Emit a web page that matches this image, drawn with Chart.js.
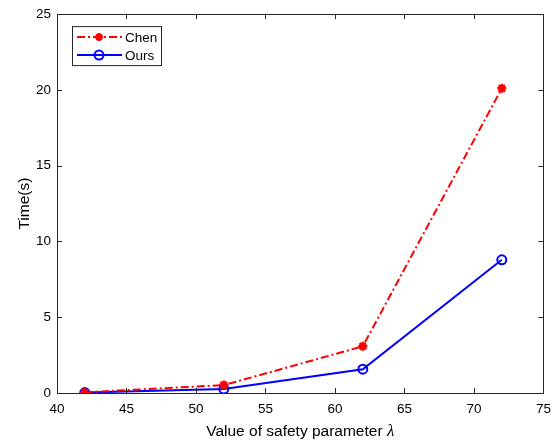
<!DOCTYPE html>
<html>
<head>
<meta charset="utf-8">
<script src="https://cdn.jsdelivr.net/npm/chart.js@4.4.1/dist/chart.umd.min.js"></script>
<style>
  html, body { margin: 0; padding: 0; background: #fff; }
  #wrap { width: 559px; height: 445px; position: relative; }
</style>
</head>
<body>
<div id="wrap"><canvas id="c" width="559" height="445"></canvas></div>
<script>
// Security parameter values on the x axis
const lambdaValues = [42, 52, 62, 72];
// Running time in seconds for each scheme
const chenTimes = [0.05, 0.52, 3.08, 20.1];
const oursTimes = [0.03, 0.26, 1.57, 8.79];
// Axis ticks
const xTicks = [40, 45, 50, 55, 60, 65, 70, 75];
const yTicks = [0, 5, 10, 15, 20, 25];
const seriesNames = ['Chen', 'Ours'];

const FONT = '"Liberation Sans", Arial, Helvetica, sans-serif';
const SERIF = '"Liberation Serif", "Times New Roman", serif';

const toPoints = (xs, ys) => xs.map((x, i) => ({ x: x, y: ys[i] }));

// Box, inward ticks, legend and x-axis title drawn on top of the plot
const framePlugin = {
  id: 'frame',
  afterDraw(chart) {
    const ctx = chart.ctx;
    const a = chart.chartArea;
    const xs = chart.scales.x, ys = chart.scales.y;
    ctx.save();
    ctx.strokeStyle = '#262626';
    ctx.lineWidth = 1;
    ctx.strokeRect(Math.round(a.left) + 0.5, Math.round(a.top) + 0.5,
                   Math.round(a.right - a.left), Math.round(a.bottom - a.top));
    const tl = 5;
    ctx.beginPath();
    xTicks.forEach(v => {
      const px = Math.round(xs.getPixelForValue(v)) + 0.5;
      ctx.moveTo(px, a.bottom); ctx.lineTo(px, a.bottom - tl);
      ctx.moveTo(px, a.top); ctx.lineTo(px, a.top + tl);
    });
    yTicks.forEach(v => {
      const py = Math.round(ys.getPixelForValue(v)) + 0.5;
      ctx.moveTo(a.left, py); ctx.lineTo(a.left + tl, py);
      ctx.moveTo(a.right, py); ctx.lineTo(a.right - tl, py);
    });
    ctx.stroke();

    // x-axis title with italic lambda
    ctx.fillStyle = '#000';
    ctx.textBaseline = 'middle';
    const main = 'Value of safety parameter ';
    const sym = 'λ';
    ctx.font = '15.5px ' + FONT;
    const w1 = ctx.measureText(main).width;
    ctx.font = 'italic 17px ' + SERIF;
    const w2 = ctx.measureText(sym).width;
    const cx = (a.left + a.right) / 2;
    const startX = cx - (w1 + w2) / 2;
    const ty = 432;
    ctx.textAlign = 'left';
    ctx.font = '15.5px ' + FONT;
    ctx.fillText(main, startX, ty);
    ctx.font = 'italic 17px ' + SERIF;
    ctx.fillText(sym, startX + w1, ty);

    // legend
    const lx = a.left + 15, ly = a.top + 12, lw = 89, lh = 39;
    ctx.fillStyle = '#fff';
    ctx.fillRect(lx, ly, lw, lh);
    ctx.strokeStyle = '#262626';
    ctx.lineWidth = 1;
    ctx.strokeRect(lx + 0.5, ly + 0.5, lw, lh);
    ctx.font = '13.5px ' + FONT;
    ctx.textAlign = 'left';
    chart.data.datasets.forEach((ds, i) => {
      const yy = ly + 11 + i * 18;
      ctx.strokeStyle = ds.borderColor;
      ctx.lineWidth = 2;
      ctx.setLineDash(ds.borderDash || []);
      ctx.beginPath();
      ctx.moveTo(lx + 5, yy); ctx.lineTo(lx + 50, yy);
      ctx.stroke();
      ctx.setLineDash([]);
      const mx = lx + 27;
      if (ds.pointStyle === 'star') {
        ctx.lineWidth = 2.5;
        ctx.beginPath();
        for (let k = 0; k < 4; k++) {
          const ang = k * Math.PI / 4;
          ctx.moveTo(mx - 4 * Math.cos(ang), yy - 4 * Math.sin(ang));
          ctx.lineTo(mx + 4 * Math.cos(ang), yy + 4 * Math.sin(ang));
        }
        ctx.stroke();
      } else {
        ctx.beginPath();
        ctx.arc(mx, yy, 4.5, 0, Math.PI * 2);
        ctx.stroke();
      }
      ctx.fillStyle = '#000';
      ctx.fillText(ds.label, lx + 53, yy + 1);
    });
    ctx.restore();
  }
};

new Chart(document.getElementById('c'), {
  type: 'line',
  data: {
    datasets: [
      {
        label: seriesNames[0],
        data: toPoints(lambdaValues, chenTimes),
        borderColor: '#ff0000',
        backgroundColor: '#ff0000',
        borderWidth: 2,
        borderDash: [8, 3, 2, 3],
        pointStyle: 'star',
        pointRadius: 4.5,
        pointBorderWidth: 2.5,
        fill: false,
        tension: 0
      },
      {
        label: seriesNames[1],
        data: toPoints(lambdaValues, oursTimes),
        borderColor: '#0000ff',
        backgroundColor: 'rgba(0,0,0,0)',
        borderWidth: 2,
        pointStyle: 'circle',
        pointRadius: 4.5,
        pointBorderWidth: 2,
        fill: false,
        tension: 0
      }
    ]
  },
  options: {
    responsive: false,
    animation: false,
    devicePixelRatio: 1,
    layout: { padding: { left: 0, right: 14, top: 12, bottom: 0 } },
    plugins: {
      legend: { display: false },
      tooltip: { enabled: false }
    },
    scales: {
      x: {
        type: 'linear',
        min: 40, max: 75,
        afterBuildTicks(s) { s.ticks = xTicks.map(v => ({ value: v })); },
        afterFit(s) { s.height = 52; },
        grid: { display: false, drawTicks: false },
        border: { display: false },
        ticks: { color: '#000', font: { family: FONT, size: 13.5 }, padding: 8, maxRotation: 0 }
      },
      y: {
        min: 0, max: 25,
        afterBuildTicks(s) { s.ticks = yTicks.map(v => ({ value: v })); },
        afterFit(s) { s.width = 57; },
        grid: { display: false, drawTicks: false },
        border: { display: false },
        title: { display: true, text: 'Time(s)', color: '#000', font: { family: FONT, size: 15.5 }, padding: { top: 15, bottom: 0 } },
        ticks: { color: '#000', font: { family: FONT, size: 13.5 }, padding: 6 }
      }
    }
  },
  plugins: [framePlugin]
});
</script>
</body>
</html>
